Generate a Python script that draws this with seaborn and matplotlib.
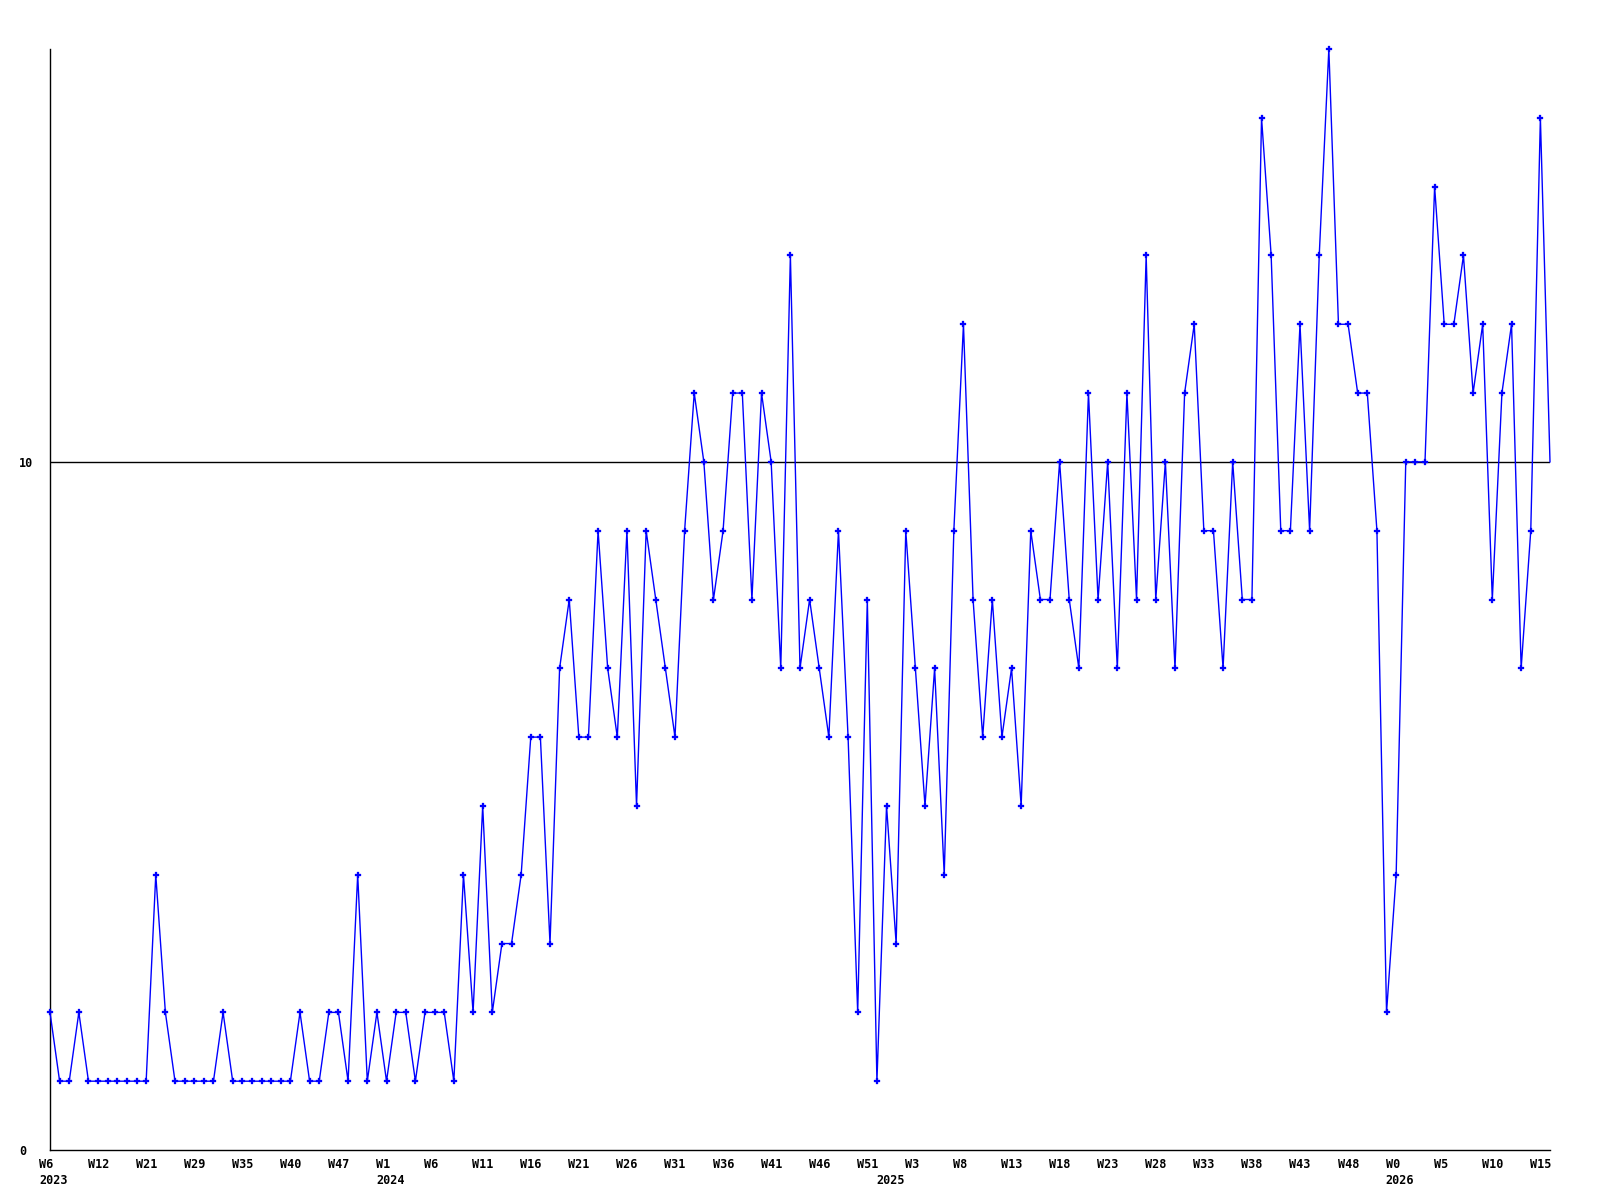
import matplotlib
matplotlib.use("Agg")
import matplotlib.pyplot as plt
import seaborn as sns

# weekly counts, one point per reported week
counts = [2, 1, 1, 2, 1, 1, 1, 1, 1, 1, 1, 4, 2, 1, 1, 1, 1, 1, 2, 1,
          1, 1, 1, 1, 1, 1, 2, 1, 1, 2, 2, 1, 4, 1, 2, 1, 2, 2, 1, 2,
          2, 2, 1, 4, 2, 5, 2, 3, 3, 4, 6, 6, 3, 7, 8, 6, 6, 9, 7, 6,
          9, 5, 9, 8, 7, 6, 9, 11, 10, 8, 9, 11, 11, 8, 11, 10, 7, 13, 7, 8,
          7, 6, 9, 6, 2, 8, 1, 5, 3, 9, 7, 5, 7, 4, 9, 12, 8, 6, 8, 6,
          7, 5, 9, 8, 8, 10, 8, 7, 11, 8, 10, 7, 11, 8, 13, 8, 10, 7, 11, 12,
          9, 9, 7, 10, 8, 8, 15, 13, 9, 9, 12, 9, 13, 16, 12, 12, 11, 11, 9, 2,
          4, 10, 10, 10, 14, 12, 12, 13, 11, 12, 8, 11, 12, 7, 9, 15, 10]

# label shown under every 5th point
week_labels = ['W6', 'W12', 'W21', 'W29', 'W35', 'W40', 'W47', 'W1', 'W6', 'W11',
               'W16', 'W21', 'W26', 'W31', 'W36', 'W41', 'W46', 'W51', 'W3', 'W8',
               'W13', 'W18', 'W23', 'W28', 'W33', 'W38', 'W43', 'W48', 'W0', 'W5',
               'W10', 'W15']
years = ['2023', '2024', '2025', '2026']
year_first_week = [0, 35, 87, 140]

font = dict(family='DejaVu Sans Mono', weight='bold', size=8.5, color='black')

fig = plt.figure(figsize=(16, 12), dpi=100)
ax = fig.add_axes([50 / 1600, 50 / 1200, 1500 / 1600, 1101 / 1200])

x = list(range(len(counts)))
ax.axhline(10, color='black', lw=1, zorder=1)
# last week is still running: no marker on it
sns.lineplot(x=x, y=counts, ax=ax, color='#0000ff', lw=1, marker='P',
             markersize=3.8, markeredgecolor='#0000ff', markeredgewidth=0.2,
             markevery=list(range(len(counts) - 1)), clip_on=False, zorder=3)

ax.set_xlim(0, len(counts) - 1)
ax.set_ylim(0, 16)
ax.set_xlabel('')
ax.set_ylabel('')

for s in ['top', 'right']:
    ax.spines[s].set_visible(False)
for s in ['left', 'bottom']:
    ax.spines[s].set_linewidth(1)
    ax.spines[s].set_color('black')

ax.set_xticks([])
ax.set_yticks([0, 10])
ax.set_yticklabels(['0', '10'], **font)
ax.tick_params(axis='y', length=0, pad=22.3)
for lab in ax.get_yticklabels():
    lab.set_horizontalalignment('left')

# week labels, left edge a little before the point
for pos, lab in zip(range(0, len(counts), 5), week_labels):
    ax.annotate(lab, xy=(pos, 0), xycoords=('data', 'axes fraction'),
                xytext=(-7.6, -10.1), textcoords='offset points',
                ha='left', va='center', annotation_clip=False, **font)
for pos, lab in zip(year_first_week, years):
    ax.annotate(lab, xy=(pos, 0), xycoords=('data', 'axes fraction'),
                xytext=(-7.6, -21.6), textcoords='offset points',
                ha='left', va='center', annotation_clip=False, **font)

fig.savefig('out.png', dpi=100)
